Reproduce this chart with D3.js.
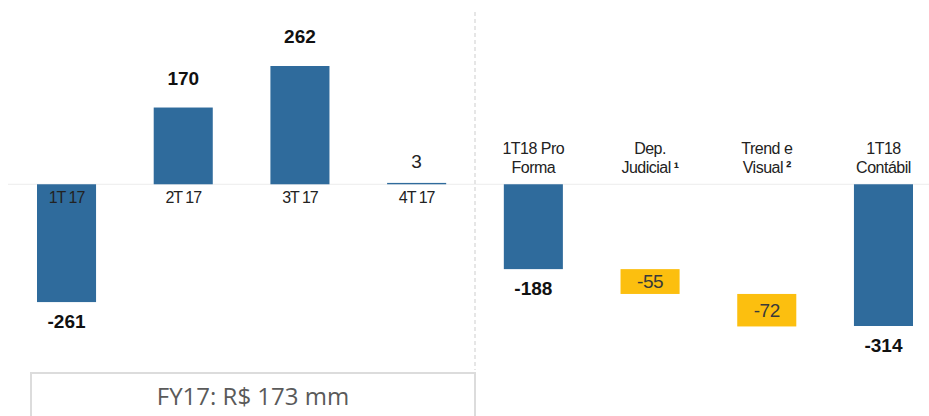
<!DOCTYPE html>
<html><head><meta charset="utf-8">
<script src="https://cdn.jsdelivr.net/npm/d3@7"></script>
<style>html,body{margin:0;padding:0;background:#fff;}svg{display:block;}</style>
</head><body>
<svg id="chart" width="929" height="416"></svg>
<script>
// ---- data ----
const categories = ["1T 17","2T 17","3T 17","4T 17","1T18 Pro Forma","Dep. Judicial","Trend e Visual","1T18 Contábil"];
const labelLines = [["1T 17"],["2T 17"],["3T 17"],["4T 17"],["1T18 Pro","Forma"],["Dep.","Judicial"],["Trend e","Visual"],["1T18","Contábil"]];
const footnotes = ["","","","","","¹","²",""];
const values = [-261,170,262,3,-188,-55,-72,-314];
const kinds = ["total","total","total","total","total","delta","delta","total"];
const summaryText = "FY17: R$ 173 mm";

const W = 929, H = 416;
const svg = d3.select("#chart");
const blue = "#2f6b9c", yellow = "#fcbf0f";
const font = "'Liberation Sans', Arial, sans-serif";

// compute waterfall start/end
let running = 0;
const bars = categories.map((c,i)=>{
  let start, end;
  if (kinds[i]==="total"){ start = 0; end = values[i]; running = values[i]; }
  else { start = running; end = running + values[i]; running = end; }
  return {c, i, v: values[i], start, end, kind: kinds[i]};
});

const x = d3.scaleBand().domain(categories).range([37, 913]).paddingInner(0.494).paddingOuter(0);
const y = d3.scaleLinear().domain([-314, 262]).range([326, 66]);
const bw = x.bandwidth();
const y0 = y(0);

// baseline
svg.append("line").attr("x1",8).attr("x2",W).attr("y1",y0).attr("y2",y0)
  .attr("stroke","#ececec").attr("stroke-width",1);

// separator
const sepX = (x(categories[3]) + bw + x(categories[4]))/2;
svg.append("line").attr("x1",sepX).attr("x2",sepX).attr("y1",12).attr("y2",370)
  .attr("stroke","#d6d6d6").attr("stroke-width",1.2).attr("stroke-dasharray","4,3");

// bars
svg.selectAll("rect.bar").data(bars).join("rect").attr("class","bar")
  .attr("x", d=>x(d.c)).attr("width", bw)
  .attr("y", d=>y(Math.max(d.start,d.end)))
  .attr("height", d=>Math.abs(y(d.start)-y(d.end)))
  .attr("fill", d=>d.kind==="delta"?yellow:blue);

// value labels
bars.forEach(d=>{
  const cx = x(d.c)+bw/2;
  if (d.kind==="delta"){
    svg.append("text").attr("x",cx).attr("y",(y(d.start)+y(d.end))/2+6.5)
      .attr("text-anchor","middle").attr("font-family",font).attr("font-size",19)
      .attr("letter-spacing","-0.5").attr("fill","#3a3a3a").text(d.v);
  } else if (Math.abs(d.v) < 10) {
    svg.append("text").attr("x",cx).attr("y",y(d.end)-15)
      .attr("text-anchor","middle").attr("font-family",font).attr("font-size",19)
      .attr("fill","#222").text(d.v);
  } else {
    const ty = d.v>=0 ? y(d.end)-23 : y(d.end)+26;
    svg.append("text").attr("x",cx).attr("y",ty)
      .attr("text-anchor","middle").attr("font-family",font).attr("font-size",19)
      .attr("font-weight","bold").attr("fill","#111").text(d.v);
  }
});

// category labels
labelLines.forEach((lines,i)=>{
  const cx = x(categories[i])+bw/2;
  if (lines.length===1){
    svg.append("text").attr("x",cx).attr("y",y0+19)
      .attr("text-anchor","middle").attr("font-family",font).attr("font-size",16)
      .attr("letter-spacing","-1").attr("fill","#222").text(lines[0]);
  } else {
    lines.forEach((ln,j)=>{
      const t = svg.append("text").attr("x",cx).attr("y",y0-30+j*19)
        .attr("text-anchor","middle").attr("font-family",font).attr("font-size",16)
        .attr("letter-spacing","-0.5").attr("fill","#222");
      t.append("tspan").text(ln);
      if (j===lines.length-1 && footnotes[i]){
        t.append("tspan").attr("dx",3).attr("font-size",16).attr("font-weight","bold").text(footnotes[i]);
      }
    });
  }
});

// summary box
svg.append("rect").attr("x",31).attr("y",373).attr("width",sepX-31).attr("height",60)
  .attr("fill","#fff").attr("stroke","#dcdcdc").attr("stroke-width",2);
svg.append("text").attr("x",(31+sepX)/2).attr("y",405)
  .attr("text-anchor","middle").attr("font-family","'Open Sans', sans-serif").attr("font-size",24)
  .attr("fill","#5a5a5a").text(summaryText);
</script>
</body></html>
